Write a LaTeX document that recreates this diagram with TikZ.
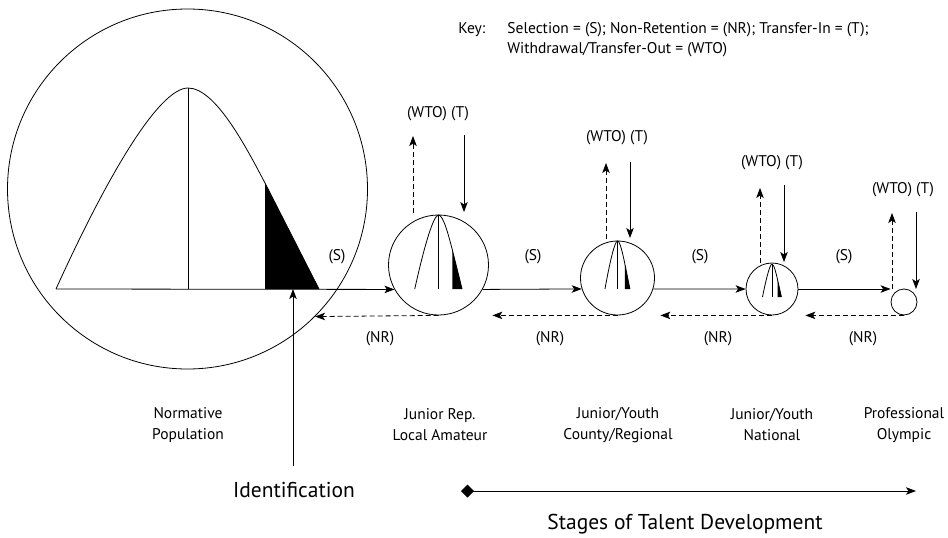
\documentclass[tikz,border=0pt]{standalone}
\usepackage{fontspec}
\setmainfont{PT Sans}
\usetikzlibrary{arrows.meta}
\begin{document}
\begin{tikzpicture}[x=1pt,y=-1pt,
  line width=0.8pt,
  flow/.style={-{Stealth[length=10pt,width=7.5pt,inset=2.5pt]}},
  back/.style={flow, dash pattern=on 5pt off 3pt},
  stage/.style={circle, draw, inner sep=0pt, minimum size=#1},
  lbl/.style={font=\fontsize{15.5}{18}\selectfont, inner sep=0pt},
  big/.style={font=\fontsize{21.5}{25}\selectfont, inner sep=0pt},
  caption/.style={lbl, align=center, font=\fontsize{15.5}{21}\selectfont},
]
\useasboundingbox (0,0) rectangle (948,538);

% skewed distribution curve, local origin at the foot of the mode line
\def\distcurve{
  \fill (77,-106) -- (77,0) -- (131,0) -- cycle;
  \draw (-132,0) .. controls (-78,-119) and (-28,-201) .. (0,-201)
        .. controls (27,-201) and (57,-144) .. (77,-106) -- (131,0);
  \draw (0,0) -- (0,-201);
}

% population and stage circles
\node[stage=360pt] (pop) at (187.5,189) {};
\node[stage=100pt] (c1) at (438.5,265) {};
\node[stage=74pt]  (c2) at (617.5,278) {};
\node[stage=52pt]  (c3) at (772,289) {};
\node[stage=26pt]  (c4) at (904,302) {};

% distributions
\begin{scope}[shift={(188,289)}]
  \distcurve
\end{scope}
\begin{scope}[shift={(438.5,289)}, xscale=0.18, yscale=0.368]
  \distcurve
\end{scope}
\begin{scope}[shift={(617.5,289)}, xscale=0.095, yscale=0.239]
  \distcurve
\end{scope}
\begin{scope}[shift={(772,297)}, xscale=0.072, yscale=0.164]
  \distcurve
\end{scope}

% selection arrows
\coordinate (base) at (56,289);
\draw[flow] (base) -- (c1.209);
\draw[flow] (c1.331) -- (c2.197);
\draw[flow] (c2.343) -- (c3.west);
\draw[flow] (c3.east) -- (c3.east -| c4.west);

% non-retention arrows
\draw[back] (c1.south) -- (pop.315.6);
\draw[back, shorten >=3.5pt] (c2.south) -- (c2.south -| c1.east);
\draw[back, shorten >=5.5pt] (c3.south) -- (c3.south -| c2.east);
\draw[back, shorten >=7pt] (c4.south) -- (c4.south -| c3.east);

\node[lbl] (s1) at (337,257) {(S)};
\node[lbl] (s2) at (533,257) {(S)};
\node[lbl] (s3) at (700,257) {(S)};
\node[lbl] (s4) at (844,257) {(S)};
\node[lbl] (nr1) at (380,339) {(NR)};
\node[lbl] (nr2) at (550,339) {(NR)};
\node[lbl] (nr3) at (718,339) {(NR)};
\node[lbl] (nr4) at (863,339) {(NR)};

% withdrawal (up, dashed) and transfer-in (down, solid)
\coordinate (w1a) at (413,213); \coordinate (w1b) at (413,136);
\coordinate (t1a) at (464,135); \coordinate (t1b) at (464,212);
\coordinate (w2a) at (606,239); \coordinate (w2b) at (606,163);
\coordinate (t2a) at (630,162); \coordinate (t2b) at (630,238);
\coordinate (w3a) at (760,263); \coordinate (w3b) at (760,188);
\coordinate (t3a) at (784,185); \coordinate (t3b) at (784,262);
\coordinate (w4a) at (892,289); \coordinate (w4b) at (892,213);
\coordinate (t4a) at (916,212); \coordinate (t4b) at (916,289);
\foreach \i in {1,2,3,4}{
  \draw[back] (w\i a) -- (w\i b);
  \draw[flow] (t\i a) -- (t\i b);
}
\node[lbl] (wt1) at (438,114) {(WTO) (T)};
\node[lbl] (wt2) at (617,138) {(WTO) (T)};
\node[lbl] (wt3) at (772,163) {(WTO) (T)};
\node[lbl] (wt4) at (903,190) {(WTO) (T)};

% key
\node[lbl, anchor=base west] (key) at (458,33) {Key:};
\node[lbl, anchor=base west] (key1) at (507,33) {Selection = (S); Non-Retention = (NR); Transfer-In = (T);};
\node[lbl, anchor=base west] (key2) at (507,53) {Withdrawal/Transfer-Out = (WTO)};

% stage captions
\node[caption] (cap0) at (188,425) {Normative\\Population};
\node[caption] (cap1) at (440,425) {Junior Rep.\\Local Amateur};
\node[caption] (cap2) at (618,425) {Junior/Youth\\County/Regional};
\node[caption] (cap3) at (772,425) {Junior/Youth\\National};
\node[caption] (cap4) at (904,425) {Professional\\Olympic};

% identification
\node[big] (ident) at (294,490) {Identification};
\coordinate (idfoot) at (293,466);
\draw[flow] (idfoot) -- (idfoot |- base);

% stages of development
\coordinate (stA) at (461,491);
\coordinate (stB) at (916,491);
\draw[{Turned Square[length=13pt,width=13pt]}-{Stealth[length=10pt,width=7.5pt,inset=2.5pt]}] (stA) -- (stB);
\node[big] (stages) at (685,524) {Stages of Talent Development};
\end{tikzpicture}
\end{document}
